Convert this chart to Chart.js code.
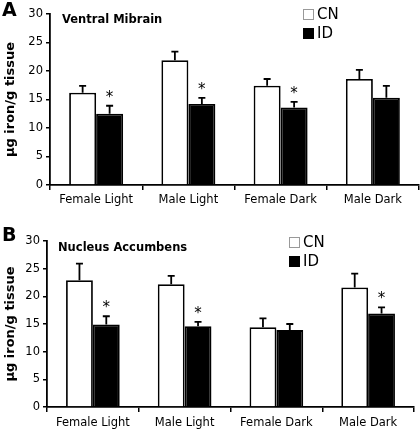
<!DOCTYPE html>
<html>
<head>
<meta charset="utf-8">
<script src="https://cdn.jsdelivr.net/npm/chart.js@4"></script>
<style>
  html, body { margin: 0; padding: 0; background: #fff; }
  #wrap { position: relative; width: 420px; height: 431px; overflow: hidden; }
  canvas { position: absolute; left: 0; }
  #cA { top: 0; }
  #cB { top: 215px; }
</style>
</head>
<body>
<div id="wrap">
  <canvas id="cA" width="420" height="215"></canvas>
  <canvas id="cB" width="420" height="216"></canvas>
</div>
<script>
// ---- data ----
const categories = ['Female Light', 'Male Light', 'Female Dark', 'Male Dark'];
const seriesNames = ['CN', 'ID'];
const yAxisTitle = 'µg iron/g tissue';
const yMin = 0, yMax = 30, yStep = 5;

// Panel A: Ventral Mibrain
const titleA = 'Ventral Mibrain';
const vmCN    = [16.2, 21.9, 17.4, 18.6];
const vmCNErr = [1.2, 1.5, 1.2, 1.6];
const vmID    = [12.5, 14.2, 13.6, 15.3];
const vmIDErr = [1.4, 1.1, 1.0, 2.1];
const vmIDSig = [true, true, true, false];

// Panel B: Nucleus Accumbens
const titleB = 'Nucleus Accumbens';
const naCN    = [22.9, 22.2, 14.4, 21.6];
const naCNErr = [3.0, 1.5, 1.6, 2.5];
const naID    = [14.9, 14.6, 13.9, 16.9];
const naIDErr = [1.5, 0.8, 1.1, 1.1];
const naIDSig = [true, true, false, true];

// ---- rendering ----
Chart.defaults.font.family = 'DejaVu Sans';
Chart.defaults.color = '#000';
Chart.defaults.animation = false;

const errorBarPlugin = {
  id: 'errorBars',
  afterDatasetsDraw(chart) {
    const ctx = chart.ctx;
    const ys = chart.scales.y;
    chart.data.datasets.forEach((ds, i) => {
      const meta = chart.getDatasetMeta(i);
      meta.data.forEach((bar, j) => {
        const v = ds.data[j];
        const e = ds.errors ? ds.errors[j] : 0;
        const yTop = ys.getPixelForValue(v + e);
        const yBar = ys.getPixelForValue(v);
        ctx.save();
        ctx.strokeStyle = '#000';
        ctx.lineWidth = 1.8;
        ctx.beginPath();
        ctx.moveTo(bar.x, yBar);
        ctx.lineTo(bar.x, yTop);
        ctx.moveTo(bar.x - 3.5, yTop);
        ctx.lineTo(bar.x + 3.5, yTop);
        ctx.stroke();
        if (ds.sig && ds.sig[j]) {
          ctx.fillStyle = '#000';
          ctx.font = '15px "DejaVu Sans"';
          ctx.textAlign = 'center';
          ctx.textBaseline = 'alphabetic';
          ctx.fillText('*', bar.x, yTop - 4);
        }
        ctx.restore();
      });
    });
  }
};

const decorPlugin = {
  id: 'decor',
  afterDraw(chart, args, opts) {
    const ctx = chart.ctx;
    ctx.save();
    // panel letter
    ctx.fillStyle = '#000';
    ctx.font = 'bold 19px "DejaVu Sans"';
    ctx.textAlign = 'left';
    ctx.textBaseline = 'alphabetic';
    ctx.fillText(opts.letter, opts.letterX, opts.letterY);
    // panel title
    ctx.font = 'bold 11.5px "DejaVu Sans"';
    ctx.textBaseline = 'middle';
    ctx.fillText(opts.title, opts.titleX, opts.titleY);
    // legend
    ctx.font = '15px "DejaVu Sans"';
    chart.data.datasets.forEach((ds, i) => {
      const by = opts.legY + i * 19;
      ctx.fillStyle = ds.backgroundColor;
      ctx.fillRect(opts.legX, by, 11, 11);
      ctx.strokeStyle = i === 0 ? '#999' : '#000';
      ctx.lineWidth = 1;
      ctx.strokeRect(opts.legX + 0.5, by + 0.5, 10, 10);
      ctx.fillStyle = '#000';
      ctx.textBaseline = 'middle';
      ctx.fillText(ds.label, opts.legX + 14, by + 6);
    });
    ctx.restore();
  }
};

function makeChart(id, cn, cnErr, id_, idErr, idSig, cfg) {
  return new Chart(document.getElementById(id), {
    type: 'bar',
    data: {
      labels: categories,
      datasets: [
        { label: seriesNames[0], data: cn, errors: cnErr, sig: null,
          backgroundColor: '#ffffff', borderColor: '#000', borderWidth: 1.8,
          categoryPercentage: 0.585, barPercentage: 1.0 },
        { label: seriesNames[1], data: id_, errors: idErr, sig: idSig,
          backgroundColor: '#000000', borderColor: '#000', borderWidth: 1.8,
          categoryPercentage: 0.585, barPercentage: 1.0 }
      ]
    },
    options: {
      responsive: false,
      animation: false,
      layout: { padding: { top: cfg.padTop, right: cfg.padRight, left: 0, bottom: 0 } },
      plugins: {
        legend: { display: false },
        tooltip: { enabled: false },
        decor: cfg.decor
      },
      scales: {
        x: {
          grid: { display: true, offset: true, drawOnChartArea: false, drawTicks: true,
                  tickLength: 5, color: '#000', lineWidth: 1.5 },
          border: { display: true, color: '#000', width: 1.8 },
          ticks: { font: { size: 11.5 }, color: '#000', padding: cfg.xPad, maxRotation: 0 },
          afterFit: s => { s.height = cfg.xHeight; }
        },
        y: {
          min: yMin, max: yMax,
          grid: { display: true, drawOnChartArea: false, drawTicks: true,
                  tickLength: 4, color: '#000', lineWidth: 1.5 },
          border: { display: true, color: '#000', width: 1.8 },
          ticks: { stepSize: yStep, font: { size: 11.5 }, color: '#000', padding: 3 },
          title: { display: true, text: yAxisTitle, font: { size: 13, weight: 'bold' },
                   color: '#000', padding: { top: 3, bottom: 0 } },
          afterFit: s => { s.width = cfg.yWidth; }
        }
      }
    },
    plugins: [errorBarPlugin, decorPlugin]
  });
}

makeChart('cA', vmCN, vmCNErr, vmID, vmIDErr, vmIDSig, {
  padTop: 14, padRight: 1, xHeight: 30, yWidth: 50, xPad: 3,
  decor: { letter: 'A', letterX: 2, letterY: 16, title: titleA, titleX: 62, titleY: 20,
           legX: 303, legY: 9 }
});
makeChart('cB', naCN, naCNErr, naID, naIDErr, naIDSig, {
  padTop: 26, padRight: 6, xHeight: 24, yWidth: 47, xPad: 4,
  decor: { letter: 'B', letterX: 2, letterY: 26, title: titleB, titleX: 58, titleY: 33,
           legX: 289, legY: 22 }
});
</script>
</body>
</html>
